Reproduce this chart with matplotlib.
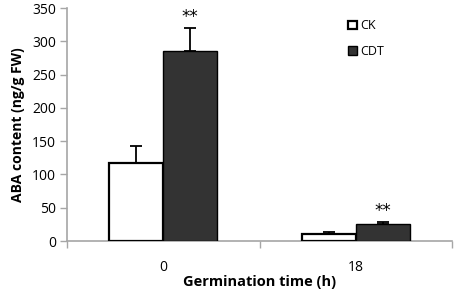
import matplotlib
matplotlib.use("Agg")
import matplotlib.pyplot as plt
import numpy as np

plt.rcParams['font.family'] = ['Open Sans', 'DejaVu Sans']

categories = ["0", "18"]
series_names = ["CK", "CDT"]
ck_values = [117, 10]
ck_errors = [25, 3]
cdt_values = [285, 25]
cdt_errors = [35, 4]
sig_labels = ["**", "**"]
yticks = [0, 50, 100, 150, 200, 250, 300, 350]

fig = plt.figure(figsize=(4.54, 2.91), dpi=100)
ax = fig.add_axes([0.1476, 0.1718, 0.848, 0.8007])

x = np.arange(len(categories))
w = 0.28
grey = "#a6a6a6"
ekw = dict(ecolor="black", elinewidth=1.3, capsize=4, capthick=1.3, zorder=2)
ax.bar(x - w/2, ck_values, w, color="white", edgecolor="black", linewidth=1.6,
       yerr=[np.zeros(len(ck_errors)), ck_errors], error_kw=ekw,
       label=series_names[0], zorder=3)
ax.bar(x + w/2, cdt_values, w, color="#333333", edgecolor="black", linewidth=1.0,
       yerr=[np.zeros(len(cdt_errors)), cdt_errors], error_kw=ekw,
       label=series_names[1], zorder=3)

for i in range(len(categories)):
    ax.text(x[i] + w/2, cdt_values[i] + cdt_errors[i] + 3, sig_labels[i],
            ha="center", va="bottom", fontsize=12, family="DejaVu Sans")

ax.set_xlim(-0.5, 1.5)
ax.set_ylim(0, 350)
ax.set_yticks(yticks)
ax.set_yticklabels([str(t) for t in yticks], fontsize=10)
ax.set_xticks(x)
ax.set_xticklabels(categories, fontsize=10)
ax.tick_params(axis="x", length=0, pad=14)
ax.tick_params(axis="y", length=5, color=grey, width=1, pad=3)
ax.set_xticks([-0.5, 0.5, 1.5], minor=True)
ax.tick_params(axis="x", which="minor", length=5, color=grey, width=1)

for s in ["top", "right"]:
    ax.spines[s].set_visible(False)
for s in ["left", "bottom"]:
    ax.spines[s].set_color(grey)
    ax.spines[s].set_linewidth(1.2)

ax.set_ylabel("ABA content (ng/g FW)", fontsize=10, fontweight="bold", labelpad=5)
ax.set_xlabel("Germination time (h)", fontsize=10.5, fontweight="bold", labelpad=0)

leg = ax.legend(loc="upper left", bbox_to_anchor=(0.7, 1.0), frameon=False,
                fontsize=9, handlelength=0.7, handleheight=0.7, handletextpad=0.3,
                labelspacing=1.0)

fig.savefig("out.png", dpi=100)
